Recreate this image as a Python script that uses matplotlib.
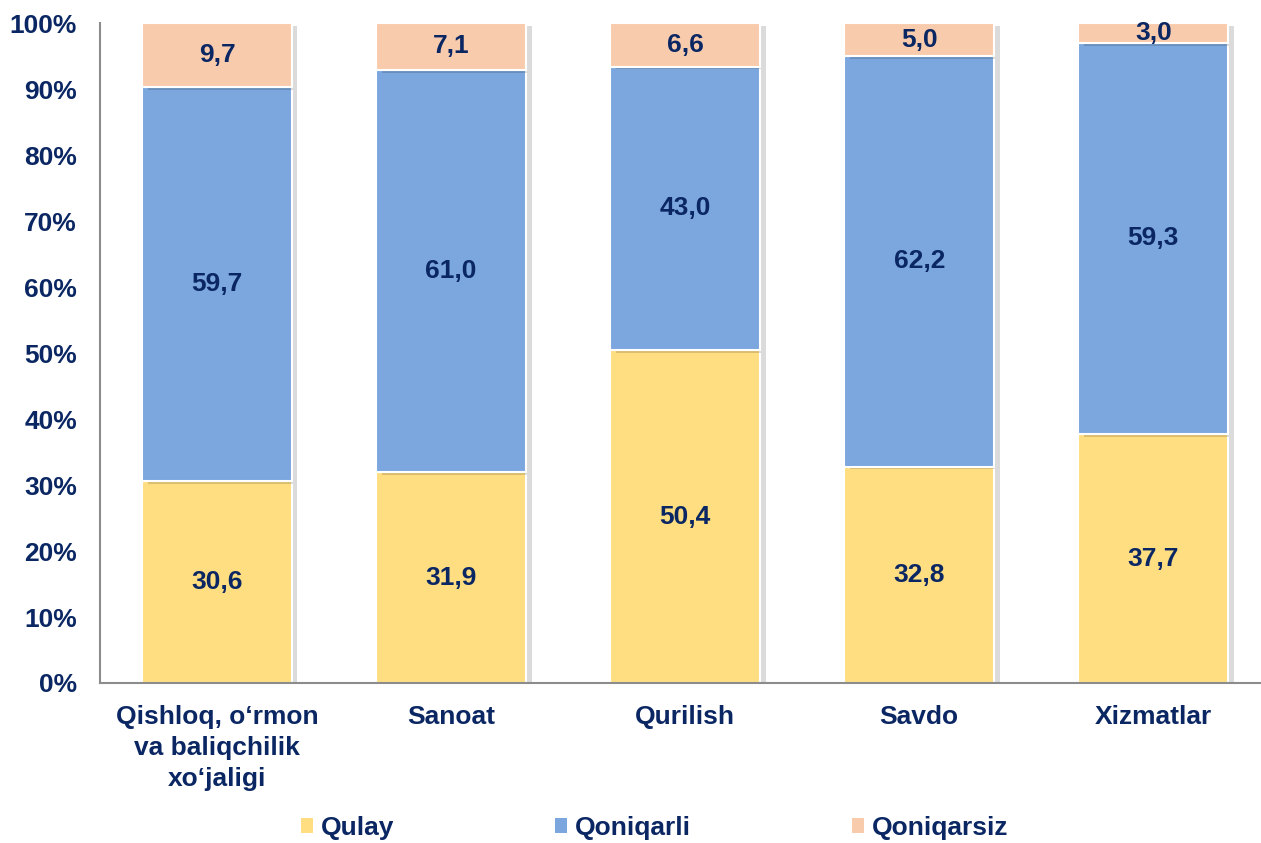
import matplotlib
matplotlib.use("Agg")
import matplotlib.pyplot as plt
import matplotlib.patheffects as pe
from matplotlib.patches import Patch
import numpy as np

plt.rcParams["font.family"] = ["Liberation Sans", "DejaVu Sans"]

NAVY = "#0B2763"
YELLOW, BLUE, PEACH = "#FEDE80", "#7BA7DE", "#F8CBAD"
FS = 19

sectors = ["Qishloq, o\u2018rmon\nva baliqchilik\nxo\u2018jaligi", "Sanoat",
           "Qurilish", "Savdo", "Xizmatlar"]
qulay = [30.6, 31.9, 50.4, 32.8, 37.7]
qoniqarli = [59.7, 61.0, 43.0, 62.2, 59.3]
qoniqarsiz = [9.7, 7.1, 6.6, 5.0, 3.0]
series = [("Qulay", qulay, YELLOW), ("Qoniqarli", qoniqarli, BLUE),
          ("Qoniqarsiz", qoniqarsiz, PEACH)]

fig = plt.figure(figsize=(12.61, 8.43), dpi=100)
ax = fig.add_axes([0.0793, 0.1898, 0.9207, 0.7829])

x = np.arange(len(sectors))
bottom = np.zeros(len(sectors))
shadow = [pe.SimplePatchShadow(offset=(4, -2), shadow_rgbFace="#000000", alpha=0.14),
          pe.Normal()]
for name, vals, col in series:
    vals = np.array(vals)
    bars = ax.bar(x, vals, 0.64, bottom=bottom, color=col, edgecolor="white",
                  linewidth=1.5, label=name)
    for b in bars:
        b.set_path_effects(shadow)
    for xi, b0, v in zip(x, bottom, vals):
        ax.text(xi, b0 + v / 2, f"{v:.1f}".replace(".", ","), ha="center",
                va="center", fontsize=FS, weight="bold", color=NAVY)
    bottom += vals

ax.set_xlim(-0.5, 4.46)
ax.set_ylim(0, 100)
ax.set_yticks(np.arange(0, 101, 10))
ax.set_yticklabels([f"{v}%" for v in range(0, 101, 10)])
ax.set_xticks(x)
ax.set_xticklabels(sectors, linespacing=1.35)
ax.tick_params(axis="y", length=0, pad=16.5, labelsize=FS, labelcolor=NAVY)
ax.tick_params(axis="x", length=0, pad=16, labelsize=FS, labelcolor=NAVY)
for lab in ax.get_xticklabels() + ax.get_yticklabels():
    lab.set_fontweight("bold")
for s in ("top", "right"):
    ax.spines[s].set_visible(False)
for s in ("left", "bottom"):
    ax.spines[s].set_color("#8C8C8C")
    ax.spines[s].set_linewidth(1.5)

handles = [Patch(facecolor=c, edgecolor="none", label=n) for n, _, c in series]
leg = fig.legend(handles=handles, loc="center", bbox_to_anchor=(0.519, 0.018),
                 ncol=3, frameon=False, handlelength=0.45, handleheight=0.45,
                 handletextpad=0.3, columnspacing=6.1,
                 prop={"size": FS, "weight": "bold"})
for t in leg.get_texts():
    t.set_color(NAVY)

fig.savefig("out.png", dpi=100)
